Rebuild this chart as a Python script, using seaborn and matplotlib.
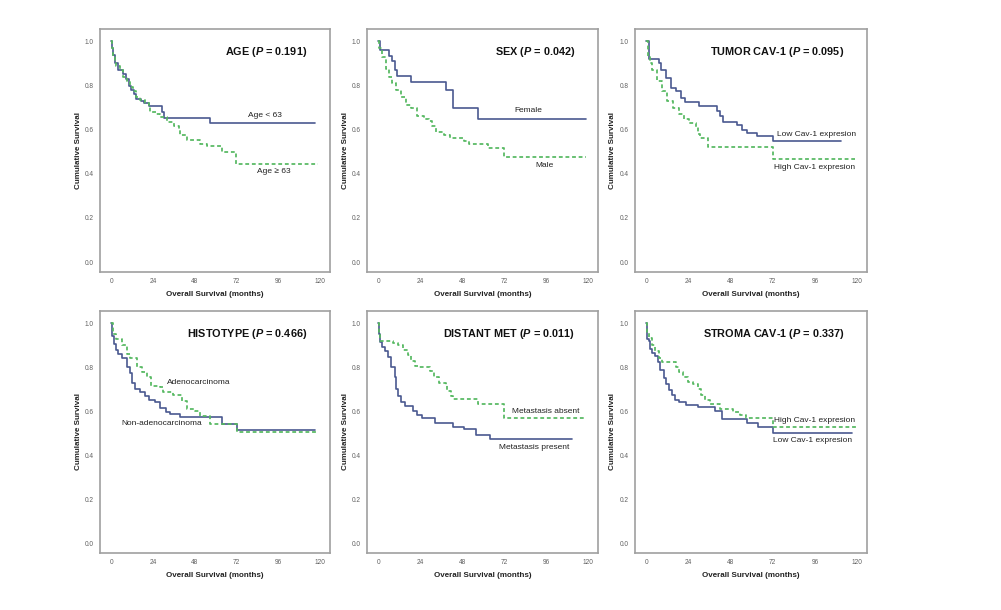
import matplotlib
matplotlib.use("Agg")
import matplotlib.pyplot as plt
import seaborn as sns

sns.set_style("white")
plt.rcParams["font.family"] = ["Liberation Sans", "DejaVu Sans"]
plt.rcParams["mathtext.fontset"] = "custom"
plt.rcParams["mathtext.it"] = "Liberation Sans:italic:bold"
plt.rcParams["mathtext.rm"] = "Liberation Sans:bold"

# ---------------- data ----------------
panel_titles = [
    r"AGE ($\it{P}$ = 0.191)",
    r"SEX ($\it{P}$ = 0.042)",
    r"TUMOR CAV-1 ($\it{P}$ = 0.095)",
    r"HISTOTYPE ($\it{P}$ = 0.466)",
    r"DISTANT MET ($\it{P}$ = 0.011)",
    r"STROMA CAV-1 ($\it{P}$ = 0.337)",
]

# Panel 1: AGE
age_lt63_t = [0, 0.5, 1, 2, 4, 7, 8.5, 10, 11.5, 13, 14.5, 17, 19, 21.5, 29, 30.5, 57, 117]
age_lt63_s = [1.0, 0.97, 0.94, 0.90, 0.87, 0.85, 0.83, 0.80, 0.78, 0.76, 0.74, 0.73, 0.72, 0.705, 0.68, 0.655, 0.63, 0.63]
age_ge63_t = [0, 0.5, 1, 2, 3, 5, 7, 9, 11, 12.5, 14, 16.5, 19.5, 21.5, 22.5, 26, 28, 32, 36, 38.7, 39.7, 43.5, 51, 55, 63.6, 71.6, 118.5]
age_ge63_s = [1.0, 0.97, 0.93, 0.91, 0.89, 0.87, 0.84, 0.82, 0.795, 0.775, 0.75, 0.735, 0.72, 0.705, 0.68, 0.67, 0.656, 0.636, 0.617, 0.60, 0.576, 0.553, 0.535, 0.526, 0.498, 0.444, 0.444]

# Panel 2: SEX
female_t = [0, 1, 6.4, 7.8, 9.7, 10.5, 18.7, 38.5, 43, 57, 118.7]
female_s = [1.0, 0.96, 0.935, 0.91, 0.87, 0.845, 0.815, 0.78, 0.70, 0.65, 0.65]
male_t = [0, 0.5, 2, 4.5, 6.4, 8, 10.3, 13.2, 16, 19, 22, 26, 28.8, 31, 33, 37.5, 41, 49, 52, 63, 72, 118.7]
male_s = [1.0, 0.97, 0.93, 0.875, 0.84, 0.81, 0.78, 0.75, 0.71, 0.70, 0.66, 0.648, 0.64, 0.615, 0.59, 0.575, 0.56, 0.55, 0.537, 0.517, 0.476, 0.476]

# Panel 3: TUMOR CAV-1
tum_low_t = [0, 1.5, 7, 8.5, 11, 14, 17, 19.7, 22, 30, 40, 42, 43.5, 51.6, 54.5, 57.5, 63, 72, 111]
tum_low_s = [1.0, 0.92, 0.90, 0.87, 0.834, 0.79, 0.775, 0.742, 0.725, 0.705, 0.685, 0.66, 0.636, 0.623, 0.60, 0.587, 0.57, 0.548, 0.548]
tum_high_t = [0, 1, 2, 3.3, 6.2, 9, 12, 15.3, 18.8, 21.7, 24.6, 28.4, 29.4, 30.4, 35.2, 72, 119]
tum_high_s = [1.0, 0.93, 0.90, 0.87, 0.82, 0.775, 0.73, 0.697, 0.67, 0.648, 0.628, 0.613, 0.58, 0.564, 0.52, 0.466, 0.466]

# Panel 4: HISTOTYPE
nonadeno_t = [0, 0.5, 1.7, 2.5, 4.2, 6, 9, 11, 12, 13.7, 16.5, 19.5, 22, 25, 28, 31.5, 34, 39.5, 63.4, 72, 117]
nonadeno_s = [1.0, 0.94, 0.908, 0.877, 0.859, 0.84, 0.80, 0.773, 0.73, 0.70, 0.689, 0.67, 0.652, 0.64, 0.616, 0.598, 0.586, 0.575, 0.54, 0.515, 0.515]
adeno_t = [0, 1, 3, 6, 9, 10.9, 14.7, 17.6, 20.4, 23, 28, 30, 35.7, 40.5, 43.3, 48, 51, 56.5, 72, 117.7]
adeno_s = [1.0, 0.95, 0.93, 0.90, 0.862, 0.84, 0.80, 0.78, 0.758, 0.716, 0.711, 0.686, 0.675, 0.647, 0.609, 0.601, 0.58, 0.54, 0.505, 0.505]

# Panel 5: DISTANT MET
met_present_t = [0, 0.5, 1.2, 2.3, 3.7, 5.6, 7.5, 9.5, 10.4, 11.4, 12.8, 15.3, 20, 22, 25, 32.7, 43, 49, 56, 64, 111]
met_present_s = [1.0, 0.95, 0.916, 0.893, 0.874, 0.847, 0.80, 0.755, 0.70, 0.67, 0.644, 0.624, 0.60, 0.583, 0.57, 0.545, 0.53, 0.517, 0.494, 0.472, 0.472]
met_absent_t = [0, 0.5, 1.2, 8.5, 11.4, 14, 17, 19, 21, 23, 29.8, 32, 34.6, 38.5, 39.5, 41.4, 43, 57, 72, 118.8]
met_absent_s = [1.0, 0.96, 0.92, 0.911, 0.90, 0.877, 0.857, 0.83, 0.808, 0.80, 0.785, 0.755, 0.73, 0.72, 0.693, 0.67, 0.655, 0.632, 0.567, 0.567]

# Panel 6: STROMA CAV-1
str_low_t = [0, 0.5, 1.4, 2.3, 3.3, 5.2, 6.8, 8, 10, 11, 13, 14.5, 16.4, 18.7, 22.6, 29.3, 39, 42.9, 57.3, 63.5, 72, 116.8]
str_low_s = [1.0, 0.93, 0.918, 0.883, 0.865, 0.85, 0.826, 0.788, 0.75, 0.723, 0.695, 0.672, 0.652, 0.64, 0.63, 0.618, 0.603, 0.565, 0.546, 0.526, 0.503, 0.503]
str_high_t = [0, 0.5, 1.4, 3.3, 5.2, 7, 9, 16.8, 18.7, 20.7, 23.5, 26.4, 29.3, 31.3, 33.2, 36, 42, 49.6, 53.5, 57, 72, 120]
str_high_s = [1.0, 0.96, 0.934, 0.903, 0.872, 0.84, 0.826, 0.803, 0.78, 0.754, 0.734, 0.723, 0.703, 0.672, 0.649, 0.631, 0.611, 0.595, 0.585, 0.569, 0.526, 0.526]

# (solid/blue curve, dashed/green curve, labels)
panels = [
    (age_lt63_t, age_lt63_s, age_ge63_t, age_ge63_s,
     [("Age < 63", 88.5, 0.664), ("Age \u2265 63", 93.3, 0.409)]),
    (female_t, female_s, male_t, male_s,
     [("Female", 86, 0.689), ("Male", 95, 0.437)]),
    (tum_low_t, tum_low_s, tum_high_t, tum_high_s,
     [("Low Cav-1 expresion", 97, 0.578), ("High Cav-1 expresion", 96, 0.43)]),
    (nonadeno_t, nonadeno_s, adeno_t, adeno_s,
     [("Adenocarcinoma", 50, 0.73), ("Non-adenocarcinoma", 29, 0.545)]),
    (met_present_t, met_present_s, met_absent_t, met_absent_s,
     [("Metastasis absent", 95.5, 0.60), ("Metastasis present", 89, 0.436)]),
    (str_low_t, str_low_s, str_high_t, str_high_s,
     [("High Cav-1 expresion", 96, 0.56), ("Low Cav-1 expresion", 94.4, 0.468)]),
]

x_ticks = [0, 24, 48, 72, 96, 120]
y_ticks = [0.0, 0.2, 0.4, 0.6, 0.8, 1.0]
y_tick_labels = ["0.0", "0.2", "0.4", "0.6", "0.8", "1.0"]

BLUE = "#4a5990"
GREEN = "#55b860"
FRAME = "#a0a0a0"

W, H = 1001, 610
fig = plt.figure(figsize=(W / 100, H / 100), dpi=100)

col_px = [(100, 330), (367, 598), (635, 867)]
row_px = [(29, 272), (311, 553)]

for i, (bt, bs, gt, gs, labels) in enumerate(panels):
    r, c = divmod(i, 3)
    x0, x1 = col_px[c]
    y0, y1 = row_px[r]
    ax = fig.add_axes([x0 / W, 1 - y1 / H, (x1 - x0) / W, (y1 - y0) / H])

    sns.lineplot(x=bt, y=bs, ax=ax, color=BLUE, lw=1.2, drawstyle="steps-post",
                 estimator=None, sort=False)
    sns.lineplot(x=gt, y=gs, ax=ax, color=GREEN, lw=1.25, drawstyle="steps-post",
                 estimator=None, sort=False, linestyle=(0, (2.2, 1.6)))

    ax.set_xlim(-6.4, 125.6)
    ax.set_ylim(-0.045, 1.056)
    ax.set_xticks(x_ticks)
    ax.set_xticklabels([str(v) for v in x_ticks])
    ax.set_yticks(y_ticks)
    ax.set_yticklabels(y_tick_labels)
    ax.tick_params(direction="out", length=3, width=0.8, color="#808080",
                   labelsize=4.7, labelcolor="#606060", pad=1.5)
    for sp in ax.spines.values():
        sp.set_visible(True)
        sp.set_color(FRAME)
        sp.set_linewidth(1.2)

    ax.set_xlabel("Overall Survival (months)", fontsize=5.8, fontweight="bold", color="#222222")
    ax.set_ylabel("Cumulative Survival", fontsize=5.8, fontweight="bold", color="#222222")
    ax.xaxis.set_label_coords(0.5, -0.078)
    ax.yaxis.set_label_coords(-0.08, 0.5)

    ax.text(112.5, 0.952, panel_titles[i], ha="right", va="center",
            fontsize=7.8, fontweight="bold", color="#111111")
    for txt, tx, ty in labels:
        ax.text(tx, ty, txt, ha="center", va="center", fontsize=6.0, color="#222222")

fig.savefig("out.png", dpi=100)
